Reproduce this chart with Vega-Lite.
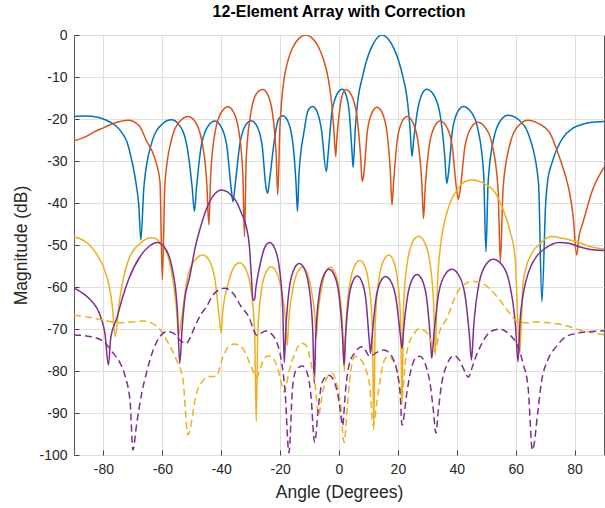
{
"$schema": "https://vega.github.io/schema/vega-lite/v6.json",
"width": 530, "height": 420,
"autosize": {"type": "none"},
"padding": {"left": 74, "top": 35, "right": 1, "bottom": 53},
"background": "white",
"title": {"text": "12-Element Array with Correction", "fontSize": 16, "fontWeight": "bold", "font": "Liberation Sans", "color": "#000000", "offset": 8, "anchor": "middle"},
"config": {
 "view": {"stroke": "#5a5a5a", "strokeWidth": 1},
 "axis": {"labelFont": "Liberation Sans", "labelFontSize": 14, "labelColor": "#262626", "titleFont": "Liberation Sans", "titleFontSize": 17.5, "titleFontWeight": "normal", "titleColor": "#262626", "domain": false, "gridColor": "#dedede", "gridWidth": 1, "tickColor": "#404040", "tickSize": -5, "labelPadding": 12, "labelExpr": "'' + datum.value"}
},
"datasets": {
 "blue": [{"x":-90,"y":-19.4},{"x":-86,"y":-19.3},{"x":-82,"y":-19.6},{"x":-79,"y":-20.3},{"x":-76,"y":-21.5},{"x":-74,"y":-23},{"x":-72,"y":-25.5},{"x":-70.5,"y":-29.5},{"x":-69,"y":-35},{"x":-68,"y":-40.5},{"x":-67.3,"y":-48.8},
 {"x":-66.26,"y":-36.2},{"x":-63.66,"y":-25.8},{"x":-60.02,"y":-21.2},{"x":-56.9,"y":-20.2},{"x":-54.56,"y":-21.2},{"x":-51.83,"y":-25.8},{"x":-49.88,"y":-36.2},{"x":-49.1,"y":-42},
 {"x":-48.41,"y":-36.5},{"x":-46.71,"y":-26.1},{"x":-44.27,"y":-21.5},{"x":-42.2,"y":-20.5},{"x":-40.34,"y":-21.5},{"x":-38.17,"y":-26.1},{"x":-36.62,"y":-36.5},{"x":-36,"y":-39.7},
 {"x":-35.38,"y":-36.4},{"x":-33.67,"y":-26},{"x":-31.66,"y":-21.4},{"x":-29.8,"y":-20.4},{"x":-28.12,"y":-21.4},{"x":-26.16,"y":-26},{"x":-24.76,"y":-36.4},{"x":-24.2,"y":-37.7},
 {"x":-23.69,"y":-35.2},{"x":-21.9,"y":-24.8},{"x":-20.63,"y":-20.2},{"x":-19.1,"y":-19.2},{"x":-17.6,"y":-20.2},{"x":-15.85,"y":-24.8},{"x":-14.6,"y":-35.2},{"x":-14.1,"y":-42},
 {"x":-13.59,"y":-33},{"x":-11.78,"y":-22.6},{"x":-10.53,"y":-18},{"x":-9,"y":-17},{"x":-7.59,"y":-18},{"x":-5.95,"y":-22.6},{"x":-4.3,"y":-32.5},
 {"x":-3.76,"y":-28.9},{"x":-2.41,"y":-18.5},{"x":-0.52,"y":-13.9},{"x":1.1,"y":-12.9},{"x":2.21,"y":-13.9},{"x":3.5,"y":-18.5},{"x":4.43,"y":-28},{"x":4.8,"y":-31.5},
 {"x":5.5,"y":-22.5},{"x":6.5,"y":-15},{"x":7.9,"y":-10.2},{"x":9.4,"y":-6},{"x":11,"y":-3},{"x":12.8,"y":-0.8},{"x":14.6,"y":0},{"x":16.5,"y":-0.8},{"x":18.5,"y":-3},{"x":20.2,"y":-6},{"x":21.8,"y":-10.2},{"x":23.1,"y":-15},{"x":24.1,"y":-22},{"x":24.8,"y":-28.9},
 {"x":25.3,"y":-25.5},{"x":26.55,"y":-18.5},{"x":28.3,"y":-13.9},{"x":29.8,"y":-12.9},{"x":31.84,"y":-13.9},{"x":34.22,"y":-18.5},{"x":35.92,"y":-28.9},{"x":36.6,"y":-35.3},
 {"x":37.16,"y":-33},{"x":38.56,"y":-22.6},{"x":40.52,"y":-18},{"x":42.2,"y":-17},{"x":44.51,"y":-18},{"x":47.21,"y":-22.6},{"x":49.13,"y":-33},{"x":49.9,"y":-51.6},
 {"x":50.65,"y":-35.1},{"x":52.53,"y":-24.7},{"x":55.15,"y":-20.1},{"x":57.4,"y":-19.1},{"x":60.85,"y":-20.1},{"x":64.88,"y":-24.7},{"x":67.75,"y":-35.1},{"x":68.9,"y":-63.5},
 {"x":70.2,"y":-40},{"x":70.9,"y":-34.5},{"x":72.3,"y":-30.5},{"x":73.8,"y":-27.5},{"x":76,"y":-24.5},{"x":79.4,"y":-22.2},{"x":83,"y":-21.2},{"x":86,"y":-20.8},{"x":90,"y":-20.6}],
 "orange": [{"x":-90,"y":-25.2},{"x":-86,"y":-24.2},{"x":-83,"y":-23},{"x":-80,"y":-22.1},{"x":-76,"y":-20.9},{"x":-71.5,"y":-20.3},{"x":-68,"y":-21.5},{"x":-65.3,"y":-25.3},{"x":-62.5,"y":-29.5},{"x":-60.8,"y":-35},{"x":-60,"y":-58.3},
 {"x":-59.12,"y":-35.4},{"x":-56.92,"y":-25},{"x":-53.84,"y":-20.4},{"x":-51.2,"y":-19.4},{"x":-49.1,"y":-20.4},{"x":-46.65,"y":-25},{"x":-44.9,"y":-35.4},{"x":-44.2,"y":-45.2},
 {"x":-43.55,"y":-33.1},{"x":-41.98,"y":-22.7},{"x":-39.65,"y":-18.1},{"x":-37.7,"y":-17.1},{"x":-36.02,"y":-18.1},{"x":-34.06,"y":-22.7},{"x":-32.66,"y":-33.1},{"x":-32.1,"y":-48},
 {"x":-31.48,"y":-29},{"x":-29.93,"y":-18.6},{"x":-28.04,"y":-14},{"x":-25.9,"y":-13},{"x":-24.37,"y":-14},{"x":-22.59,"y":-18.6},{"x":-21.31,"y":-29},{"x":-20.8,"y":-38.1},
 {"x":-20.1,"y":-22.5},{"x":-19.4,"y":-15},{"x":-18.6,"y":-10.2},{"x":-17.3,"y":-6},{"x":-15.8,"y":-3.1},{"x":-13.6,"y":-0.8},{"x":-11.3,"y":0},{"x":-9,"y":-0.8},{"x":-6.8,"y":-3.1},{"x":-5.2,"y":-6},{"x":-3.7,"y":-10.2},{"x":-2.7,"y":-15},{"x":-1.8,"y":-22},{"x":-1.1,"y":-28.9},
 {"x":-0.76,"y":-25},{"x":0.09,"y":-18.6},{"x":1.28,"y":-14},{"x":2.3,"y":-13},{"x":3.98,"y":-14},{"x":5.94,"y":-18.6},{"x":7.34,"y":-29},{"x":7.9,"y":-34.9},
 {"x":8.4,"y":-33.2},{"x":9.65,"y":-22.8},{"x":11.4,"y":-18.2},{"x":12.9,"y":-17.2},{"x":14.43,"y":-18.2},{"x":16.22,"y":-22.8},{"x":17.49,"y":-33.2},{"x":18,"y":-40.5},
 {"x":18.51,"y":-35.4},{"x":19.79,"y":-25},{"x":21.57,"y":-20.4},{"x":23.1,"y":-19.4},{"x":24.78,"y":-20.4},{"x":26.74,"y":-25},{"x":28.14,"y":-35.4},{"x":28.7,"y":-43.7},
 {"x":29.27,"y":-36.5},{"x":30.7,"y":-26.1},{"x":32.69,"y":-21.5},{"x":34.4,"y":-20.5},{"x":36.23,"y":-21.5},{"x":38.37,"y":-26.1},{"x":39.89,"y":-36.5},{"x":40.5,"y":-39.1},
 {"x":41.16,"y":-36.8},{"x":42.81,"y":-26.4},{"x":45.12,"y":-21.8},{"x":47.1,"y":-20.8},{"x":49.41,"y":-21.8},{"x":52.11,"y":-26.4},{"x":54.03,"y":-36.8},{"x":54.8,"y":-54},
 {"x":55.74,"y":-36.3},{"x":58.09,"y":-25.9},{"x":61.38,"y":-21.3},{"x":64.2,"y":-20.3},{"x":67,"y":-20.8},{"x":69.5,"y":-21.8},{"x":71.5,"y":-23.2},{"x":73.8,"y":-27},{"x":75.8,"y":-31},{"x":77.1,"y":-34},{"x":78.3,"y":-37.5},{"x":79.5,"y":-43},{"x":80.7,"y":-52.4},
 {"x":81.5,"y":-48},{"x":82.8,"y":-44.8},{"x":86.1,"y":-36.9},{"x":90,"y":-31.5}],
 "yellow": [{"x":-90,"y":-48},{"x":-86.5,"y":-49},{"x":-84.5,"y":-50.2},{"x":-82,"y":-52.5},{"x":-80,"y":-55.2},{"x":-78,"y":-60},{"x":-77,"y":-64.5},{"x":-76,"y":-71.8},
 {"x":-74.76,"y":-64.3},{"x":-71.66,"y":-53.9},{"x":-66.98,"y":-49.3},{"x":-63.6,"y":-48.3},{"x":-60.84,"y":-49.3},{"x":-57.62,"y":-53.9},{"x":-55.32,"y":-64.3},{"x":-54.4,"y":-71.4},
 {"x":-53.58,"y":-68},{"x":-51.53,"y":-58},{"x":-48.66,"y":-53.4},{"x":-46.2,"y":-52.4},{"x":-44.34,"y":-53.4},{"x":-42.17,"y":-58},{"x":-40.62,"y":-67.5},{"x":-40,"y":-71},
 {"x":-39.5,"y":-66},{"x":-37.83,"y":-59.8},{"x":-35.66,"y":-55.2},{"x":-33.8,"y":-54.2},{"x":-32.09,"y":-55.2},{"x":-30.1,"y":-59.8},{"x":-28.67,"y":-70.2},{"x":-28.1,"y":-92},
 {"x":-27.6,"y":-71.2},{"x":-26.35,"y":-60.8},{"x":-24.6,"y":-56.2},{"x":-23.1,"y":-55.2},{"x":-21.45,"y":-56.2},{"x":-19.53,"y":-60.8},{"x":-18.15,"y":-68},{"x":-17.6,"y":-74},
 {"x":-17.08,"y":-68},{"x":-15.78,"y":-60.9},{"x":-13.96,"y":-56.3},{"x":-12.4,"y":-55.3},{"x":-10.99,"y":-56.3},{"x":-9.35,"y":-60.9},{"x":-8.17,"y":-67},{"x":-7.7,"y":-72},
 {"x":-7.23,"y":-67},{"x":-6.06,"y":-60.9},{"x":-4.41,"y":-56.3},{"x":-3,"y":-55.3},{"x":-1.56,"y":-56.3},{"x":0.12,"y":-60.9},{"x":1.32,"y":-71},{"x":1.8,"y":-80},
 {"x":2.33,"y":-69.7},{"x":3.66,"y":-59.3},{"x":5.51,"y":-54.7},{"x":7.1,"y":-53.7},{"x":8.51,"y":-54.7},{"x":10.16,"y":-59.3},{"x":11.33,"y":-69.7},{"x":11.8,"y":-94},
 {"x":12.31,"y":-68.4},{"x":13.59,"y":-58},{"x":15.37,"y":-53.4},{"x":16.9,"y":-52.4},{"x":18.25,"y":-53.4},{"x":19.83,"y":-58},{"x":20.95,"y":-68.4},{"x":21.4,"y":-88},
 {"x":21.96,"y":-63.9},{"x":23.36,"y":-53.5},{"x":25.32,"y":-48.9},{"x":27,"y":-47.9},{"x":28.71,"y":-48.9},{"x":30.71,"y":-53.5},{"x":32.13,"y":-63.9},{"x":32.7,"y":-76.2},
 {"x":33.4,"y":-60},{"x":34.5,"y":-50},{"x":36,"y":-44},{"x":38,"y":-39.5},{"x":40.5,"y":-36.5},{"x":42.5,"y":-35},{"x":45,"y":-34.5},{"x":50,"y":-35.6},{"x":53,"y":-37.5},{"x":55.7,"y":-41.5},{"x":58,"y":-46.5},{"x":59.8,"y":-53},{"x":61.4,"y":-75.8},
 {"x":62.4,"y":-60},{"x":63.5,"y":-55.5},{"x":65.2,"y":-52.3},{"x":68.5,"y":-49.5},{"x":72.1,"y":-48},{"x":76,"y":-48.4},{"x":80.5,"y":-49.2},{"x":85,"y":-50.3},{"x":90,"y":-51}],
 "purple": [{"x":-90,"y":-60.3},{"x":-87,"y":-61.5},{"x":-84.5,"y":-63},{"x":-81,"y":-67},{"x":-79.5,"y":-71},{"x":-78.3,"y":-78.6},
 {"x":-77.5,"y":-72},{"x":-75.5,"y":-67.5},{"x":-73.5,"y":-62.5},{"x":-71.5,"y":-58.3},{"x":-67.6,"y":-52.8},{"x":-64.5,"y":-50.3},{"x":-61.7,"y":-49.4},{"x":-59.4,"y":-50.4},{"x":-56.8,"y":-55},{"x":-54.9,"y":-65.4},{"x":-54.1,"y":-78.2},
 {"x":-53.3,"y":-70},{"x":-52.4,"y":-63},{"x":-50.7,"y":-57.5},{"x":-48.8,"y":-50.5},{"x":-47.3,"y":-46.4},{"x":-45.5,"y":-42.3},{"x":-43.9,"y":-39.6},{"x":-42,"y":-37.7},{"x":-40,"y":-36.9},{"x":-38,"y":-37.3},{"x":-36.5,"y":-38.3},{"x":-34.9,"y":-39.6},{"x":-33.2,"y":-42.3},{"x":-31.5,"y":-45.6},{"x":-30.4,"y":-50.5},{"x":-29.8,"y":-57},{"x":-29.2,"y":-63.2},{"x":-28.7,"y":-63},
 {"x":-28.2,"y":-60},{"x":-26.9,"y":-55},{"x":-25.1,"y":-50.4},{"x":-23.6,"y":-49.4},{"x":-22.1,"y":-50.4},{"x":-20.35,"y":-55},{"x":-19.1,"y":-65.4},{"x":-18.6,"y":-78},
 {"x":-18.09,"y":-70.4},{"x":-16.82,"y":-60},{"x":-15.03,"y":-55.4},{"x":-13.5,"y":-54.4},{"x":-11.97,"y":-55.4},{"x":-10.19,"y":-60},{"x":-8.91,"y":-70.4},{"x":-8.4,"y":-83},
 {"x":-7.9,"y":-71.8},{"x":-6.65,"y":-61.4},{"x":-4.9,"y":-56.8},{"x":-3.4,"y":-55.8},{"x":-1.87,"y":-56.8},{"x":-0.09,"y":-61.4},{"x":1.19,"y":-71.8},{"x":1.7,"y":-78.6},
 {"x":2.15,"y":-72.5},{"x":3.28,"y":-63},{"x":4.85,"y":-58.4},{"x":6.2,"y":-57.4},{"x":7.55,"y":-58.4},{"x":9.13,"y":-63},{"x":10.25,"y":-72.5},{"x":10.7,"y":-75.8},
 {"x":11.21,"y":-72},{"x":12.49,"y":-63.1},{"x":14.27,"y":-58.5},{"x":15.8,"y":-57.5},{"x":17.48,"y":-58.5},{"x":19.44,"y":-63.1},{"x":20.84,"y":-71.5},{"x":21.4,"y":-74.6},
 {"x":21.91,"y":-70.5},{"x":23.19,"y":-62.6},{"x":24.97,"y":-58},{"x":26.5,"y":-57},{"x":28,"y":-58},{"x":29.75,"y":-62.6},{"x":31,"y":-72},{"x":31.5,"y":-77},
 {"x":32.18,"y":-71.8},{"x":33.88,"y":-61.4},{"x":36.26,"y":-56.8},{"x":38.3,"y":-55.8},{"x":40.31,"y":-56.8},{"x":42.66,"y":-61.4},{"x":44.33,"y":-71.8},{"x":45,"y":-77.4},
 {"x":45.74,"y":-69.4},{"x":47.59,"y":-59},{"x":50.18,"y":-54.4},{"x":52.4,"y":-53.4},{"x":54.92,"y":-54.4},{"x":57.86,"y":-59},{"x":59.96,"y":-69.4},{"x":60.8,"y":-77.8},
 {"x":61.5,"y":-68},{"x":62.5,"y":-62},{"x":63.6,"y":-58.3},{"x":65.2,"y":-55},{"x":67,"y":-52.8},{"x":70,"y":-50.8},{"x":74.9,"y":-49.4},{"x":78,"y":-49.6},{"x":81.6,"y":-50.4},{"x":85,"y":-51},{"x":90,"y":-51.3}],
 "yellowDash": [{"x":-90,"y":-66.7},{"x":-85,"y":-67.2},{"x":-80,"y":-67.9},{"x":-74.3,"y":-68.5},{"x":-70,"y":-68.3},{"x":-66.5,"y":-68.1},{"x":-61.9,"y":-69.3},{"x":-58.6,"y":-72.6},{"x":-55.2,"y":-77.4},{"x":-53,"y":-82},{"x":-51.3,"y":-95.2},{"x":-48.4,"y":-85.3},{"x":-46.2,"y":-82.3},{"x":-44,"y":-81.3},{"x":-41.7,"y":-81.3},{"x":-39.4,"y":-76.6},{"x":-37.5,"y":-74.2},{"x":-35.5,"y":-73.6},{"x":-32.7,"y":-74.6},{"x":-29.8,"y":-79},{"x":-28,"y":-81.5},{"x":-26,"y":-78},{"x":-24.5,"y":-76.5},{"x":-23.3,"y":-76.4},{"x":-20.8,"y":-79.4},{"x":-19.1,"y":-84.1},{"x":-18.6,"y":-85},{"x":-17,"y":-80.2},{"x":-15.2,"y":-76.2},{"x":-12.9,"y":-73.4},{"x":-11.3,"y":-73.8},{"x":-9.6,"y":-77.8},{"x":-8,"y":-84},{"x":-7,"y":-90.5},{"x":-5.5,"y":-85},{"x":-4,"y":-81.5},{"x":-2.5,"y":-80.5},{"x":-1,"y":-82.5},{"x":0.5,"y":-88},{"x":1.7,"y":-97},{"x":3,"y":-87},{"x":4,"y":-80},{"x":5.5,"y":-76.5},{"x":7,"y":-77},{"x":9,"y":-79.4},{"x":10.5,"y":-84},{"x":11.6,"y":-93},{"x":12.9,"y":-87.3},{"x":14.1,"y":-81.7},{"x":15.2,"y":-77.8},{"x":16.5,"y":-76.5},{"x":18,"y":-77.2},{"x":19.7,"y":-79.8},{"x":21.4,"y":-86.5},{"x":22.5,"y":-78},{"x":23.6,"y":-73.8},{"x":25.3,"y":-71.4},{"x":27,"y":-70},{"x":28.7,"y":-70.3},{"x":30.4,"y":-71.4},{"x":32.6,"y":-75.4},{"x":34,"y":-71},{"x":36.6,"y":-67.5},{"x":40,"y":-61.5},{"x":43,"y":-59.2},{"x":45.6,"y":-58.7},{"x":49.6,"y":-59.5},{"x":52,"y":-61},{"x":54.6,"y":-63.1},{"x":58,"y":-66.3},{"x":60.8,"y":-68.3},{"x":64,"y":-68.5},{"x":67.6,"y":-68.3},{"x":72,"y":-68.6},{"x":76,"y":-69},{"x":81.6,"y":-70.2},{"x":86,"y":-70.9},{"x":90,"y":-71.4}],
 "purpleDash": [{"x":-90,"y":-71.4},{"x":-84.5,"y":-71.8},{"x":-80,"y":-73},{"x":-77.1,"y":-75.4},{"x":-74.3,"y":-78.2},{"x":-72.6,"y":-81.3},{"x":-70.9,"y":-87.7},{"x":-70,"y":-98.8},{"x":-68.7,"y":-92.5},{"x":-67,"y":-85.3},{"x":-65.3,"y":-80.2},{"x":-63.1,"y":-75},{"x":-60.8,"y":-71.8},{"x":-58.6,"y":-70.6},{"x":-56.3,"y":-71},{"x":-53.8,"y":-72.8},{"x":-52,"y":-73.5},{"x":-50.5,"y":-72},{"x":-49,"y":-69.5},{"x":-46.7,"y":-66.3},{"x":-45,"y":-64.7},{"x":-42.8,"y":-61.9},{"x":-38.9,"y":-60.3},{"x":-36,"y":-61.5},{"x":-33.2,"y":-64.7},{"x":-30.4,"y":-67.5},{"x":-29,"y":-70.2},{"x":-28,"y":-71.5},{"x":-26.5,"y":-71},{"x":-24.8,"y":-70.5},{"x":-22.5,"y":-71.5},{"x":-20.8,"y":-73.8},{"x":-19.7,"y":-77},{"x":-18.3,"y":-85},{"x":-17,"y":-99.5},{"x":-15.8,"y":-84.1},{"x":-14.6,"y":-79.8},{"x":-12.5,"y":-78.8},{"x":-10.8,"y":-80.5},{"x":-9.5,"y":-86},{"x":-8.3,"y":-97},{"x":-6.8,"y":-87.3},{"x":-5.6,"y":-82.5},{"x":-3.4,"y":-81},{"x":-0.6,"y":-84.9},{"x":0.5,"y":-89.7},{"x":1.2,"y":-93},{"x":2.3,"y":-84},{"x":3.4,"y":-78.6},{"x":5.5,"y":-75.5},{"x":7.9,"y":-74.2},{"x":10.5,"y":-76.5},{"x":13,"y":-75.5},{"x":15.2,"y":-75},{"x":18,"y":-76.6},{"x":19.7,"y":-80.2},{"x":20.8,"y":-85.7},{"x":21.4,"y":-92.9},{"x":23.1,"y":-84.9},{"x":24.2,"y":-80.5},{"x":25.9,"y":-77},{"x":27.5,"y":-76.5},{"x":29.8,"y":-79.4},{"x":31,"y":-83.3},{"x":32.1,"y":-89.7},{"x":32.9,"y":-94.8},{"x":33.8,"y":-88.9},{"x":34.9,"y":-82.9},{"x":36.6,"y":-78.6},{"x":38.3,"y":-76.6},{"x":39.4,"y":-76.4},{"x":40.5,"y":-77},{"x":42.8,"y":-80.2},{"x":43.9,"y":-81.5},{"x":45.3,"y":-79},{"x":46.7,"y":-76.2},{"x":48.5,"y":-73.5},{"x":50.1,"y":-71.6},{"x":52.5,"y":-70.3},{"x":54.6,"y":-70},{"x":58,"y":-71.4},{"x":60.8,"y":-74.2},{"x":62.5,"y":-78.2},{"x":64.2,"y":-83.7},{"x":65.7,"y":-98.8},{"x":67.6,"y":-89.3},{"x":68.7,"y":-82.9},{"x":70.9,"y":-77.4},{"x":73.8,"y":-74.2},{"x":77.1,"y":-71.8},{"x":81.6,"y":-70.9},{"x":86,"y":-70.6},{"x":90,"y":-70.4}]
},
"encoding": {
 "x": {"field": "x", "type": "quantitative", "scale": {"domain": [-90, 90], "nice": false, "zero": false}, "axis": {"title": "Angle (Degrees)", "values": [-80,-60,-40,-20,0,20,40,60,80], "titlePadding": 7}},
 "y": {"field": "y", "type": "quantitative", "scale": {"domain": [-100, 0], "nice": false, "zero": false}, "axis": {"title": "Magnitude (dB)", "values": [0,-10,-20,-30,-40,-50,-60,-70,-80,-90,-100], "titlePadding": 8}}
},
"layer": [
 {"data": {"name": "blue"}, "mark": {"type": "line", "color": "#0072BD", "strokeWidth": 1.5, "interpolate": "monotone", "clip": true}},
 {"data": {"name": "orange"}, "mark": {"type": "line", "color": "#D95319", "strokeWidth": 1.5, "interpolate": "monotone", "clip": true}},
 {"data": {"name": "yellow"}, "mark": {"type": "line", "color": "#EDB120", "strokeWidth": 1.5, "interpolate": "monotone", "clip": true}},
 {"data": {"name": "purple"}, "mark": {"type": "line", "color": "#7E2F8E", "strokeWidth": 1.5, "interpolate": "monotone", "clip": true}},
 {"data": {"name": "yellowDash"}, "mark": {"type": "line", "color": "#EDB120", "strokeWidth": 1.5, "strokeDash": [7, 4], "interpolate": "monotone", "clip": true}},
 {"data": {"name": "purpleDash"}, "mark": {"type": "line", "color": "#7E2F8E", "strokeWidth": 1.5, "strokeDash": [7, 4], "interpolate": "monotone", "clip": true}}
]
}
